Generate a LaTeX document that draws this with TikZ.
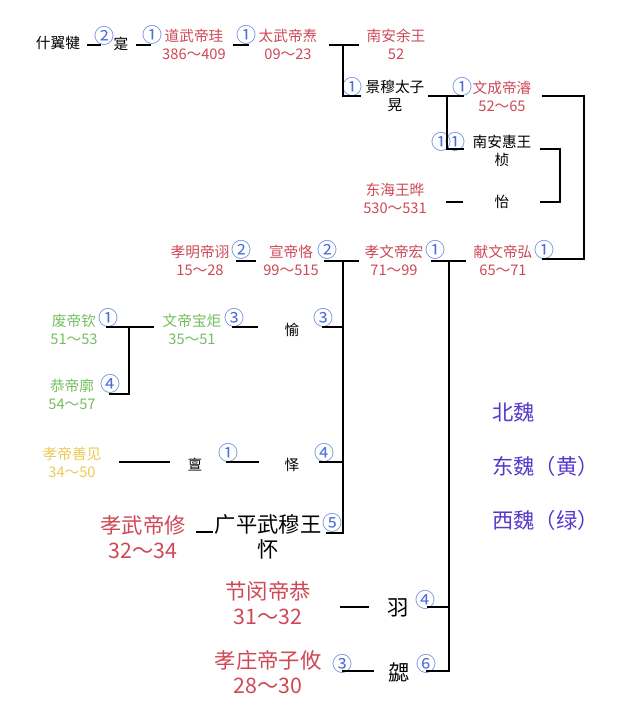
\documentclass[tikz,border=0pt]{standalone}
\usepackage{fontspec}
\setmainfont{Noto Sans CJK SC}
\usepackage{tikz}
\usetikzlibrary{positioning}
\definecolor{wred}{RGB}{206,72,86}
\definecolor{wgreen}{RGB}{116,190,98}
\definecolor{wyellow}{RGB}{236,202,84}
\definecolor{wblue}{RGB}{72,112,214}
\definecolor{wpurple}{RGB}{86,56,204}
\tikzset{
  every node/.style={inner sep=0pt, align=center},
  small/.style={font=\fontsize{11}{13.5}\selectfont},
  big/.style={font=\fontsize{16}{18.75}\selectfont},
  emp/.style={small, text=wred},
  bigemp/.style={big, text=wred},
  xiwei/.style={small, text=wgreen},
  dongwei/.style={small, text=wyellow},
  num/.style={font=\fontsize{15}{15}\selectfont, text=wblue},
  legend/.style={big, text=wpurple, anchor=west},
  link/.style={line width=1.5pt, line cap=rect}
}
\begin{document}
\begin{tikzpicture}[x=0.75pt, y=-0.75pt]
  \useasboundingbox (0,0) rectangle (640,720);

  % first rows
  \node[small] (shi) at (58,43) {什翼犍};
  \node[num] (n2a) at (104,36) {②};
  \node[small] (shi2) at (121,44) {寔};
  \node[num] (n1a) at (152,35) {①};
  \node[emp] (daowu) at (194,44) {道武帝珪\\386～409};
  \node[num] (n1b) at (246,35) {①};
  \node[emp] (taiwu) at (288,44) {太武帝焘\\09～23};
  \node[emp] (nanyu) at (396,44) {南安余王\\52};
  \node[num] (n1c) at (352,87) {①};
  \node[small] (jingmu) at (395,96) {景穆太子\\晃};
  \node[num] (n1d) at (462,87) {①};
  \node[emp] (wencheng) at (502,96) {文成帝濬\\52～65};
  \node[num] (n1e) at (441,142) {①};
  \node[num] (n1f) at (455,142) {①};
  \node[small] (huiwang) at (502,151) {南安惠王\\桢};
  \node[emp] (donghai) at (395,198) {东海王晔\\530～531};
  \node[small] (yi) at (502,202) {怡};

  % middle row
  \node[emp] (xiaoming) at (200,260) {孝明帝诩\\15～28};
  \node[num] (n2b) at (241,250) {②};
  \node[emp] (xuanwu) at (291,260) {宣帝恪\\99～515};
  \node[num] (n2c) at (327,250) {②};
  \node[emp] (xiaowen) at (394,260) {孝文帝宏\\71～99};
  \node[num] (n1g) at (435,250) {①};
  \node[emp] (xianwen) at (503,260) {献文帝弘\\65～71};
  \node[num] (n1h) at (544,250) {①};

  % west and east
  \node[xiwei] (feidi) at (74,329) {废帝钦\\51～53};
  \node[num] (n1i) at (108,318) {①};
  \node[xiwei] (wendi) at (192,329) {文帝宝炬\\35～51};
  \node[num] (n3a) at (234,318) {③};
  \node[small] (yu) at (292,330) {愉};
  \node[num] (n3b) at (323,318) {③};
  \node[xiwei] (gongdi) at (72,394) {恭帝廓\\54～57};
  \node[num] (n4a) at (110,384) {④};
  \node[dongwei] (xiaodi) at (72,462) {孝帝善见\\34～50};
  \node[small] (dan) at (195,465) {亶};
  \node[num] (n1j) at (228,453) {①};
  \node[small] (yi2) at (292,465) {怿};
  \node[num] (n4b) at (324,453) {④};

  % big names
  \node[bigemp] (xiaowu) at (143,537) {孝武帝修\\32～34};
  \node[big] (guangping) at (268,537) {广平武穆王\\怀};
  \node[num] (n5) at (332,523) {⑤};
  \node[bigemp] (jiemin) at (268,603) {节闵帝恭\\31～32};
  \node[big] (yu2) at (398,608) {羽};
  \node[num] (n4c) at (425,600) {④};
  \node[bigemp] (xiaozhuang) at (268,672) {孝庄帝子攸\\28～30};
  \node[num] (n3c) at (342,664) {③};
  \node[big] (xie) at (399,672) {勰};
  \node[num] (n6) at (426,664) {⑥};

  % legend
  \node[legend] (beiwei) at (492,412) {北魏};
  \node[legend] (dongleg) at (492,466) {东魏（黄）};
  \node[legend] (xileg) at (492,520) {西魏（绿）};

  % joints
  \coordinate (a1) at (88,45);   \coordinate (a2) at (100,45);
  \coordinate (b1) at (137,45);  \coordinate (b2) at (150,45);
  \coordinate (c1) at (234,45);  \coordinate (c2) at (248,45);
  \coordinate (d1) at (330,45);  \coordinate (d2) at (358,45);
  \coordinate (d3) at (343,45);  \coordinate (d4) at (360,96);
  \coordinate (e1) at (429,96);  \coordinate (e2) at (463,96);
  \coordinate (e3) at (447,96);  \coordinate (e4) at (463,149);
  \coordinate (f1) at (543,96);  \coordinate (f2) at (584,96);
  \coordinate (f3) at (543,259);
  \coordinate (g1) at (541,149); \coordinate (g2) at (560,149);
  \coordinate (g3) at (541,202);
  \coordinate (h1) at (447,202); \coordinate (h2) at (462,202);
  \coordinate (i1) at (237,261); \coordinate (i2) at (255,261);
  \coordinate (k1) at (325,261); \coordinate (k2) at (358,261);
  \coordinate (k3) at (343,261); \coordinate (k4) at (327,533);
  \coordinate (m1) at (432,261); \coordinate (m2) at (465,261);
  \coordinate (m3) at (449,261); \coordinate (m4) at (427,671);
  \coordinate (p1) at (107,327); \coordinate (p2) at (153,327);
  \coordinate (p3) at (129,327); \coordinate (p4) at (110,394);
  \coordinate (q1) at (233,327); \coordinate (q2) at (257,327);
  \coordinate (q3) at (323,327);
  \coordinate (r1) at (120,462); \coordinate (r2) at (169,462);
  \coordinate (r3) at (227,462); \coordinate (r4) at (258,462);
  \coordinate (r5) at (320,462);
  \coordinate (s1) at (197,532); \coordinate (s2) at (212,532);
  \coordinate (t1) at (341,607); \coordinate (t2) at (368,607);
  \coordinate (t3) at (428,607);
  \coordinate (u1) at (343,671); \coordinate (u2) at (373,671);

  % lines
  \draw[link] (a1) -- (a2);
  \draw[link] (b1) -- (b2);
  \draw[link] (c1) -- (c2);
  \draw[link] (d1) -- (d2);
  \draw[link] (d3) |- (d4);
  \draw[link] (e1) -- (e2);
  \draw[link] (e3) |- (e4);
  \draw[link] (f1) -| (f2) |- (f3);
  \draw[link] (g1) -| (g2) |- (g3);
  \draw[link] (h1) -- (h2);
  \draw[link] (i1) -- (i2);
  \draw[link] (k1) -- (k2);
  \draw[link] (k3) |- (k4);
  \draw[link] (m1) -- (m2);
  \draw[link] (m3) |- (m4);
  \draw[link] (p1) -- (p2);
  \draw[link] (p3) |- (p4);
  \draw[link] (q1) -- (q2);
  \draw[link] (q3) -- (k3 |- q3);
  \draw[link] (r1) -- (r2);
  \draw[link] (r3) -- (r4);
  \draw[link] (r5) -- (k3 |- r5);
  \draw[link] (s1) -- (s2);
  \draw[link] (t1) -- (t2);
  \draw[link] (t3) -- (m3 |- t3);
  \draw[link] (u1) -- (u2);
\end{tikzpicture}
\end{document}
